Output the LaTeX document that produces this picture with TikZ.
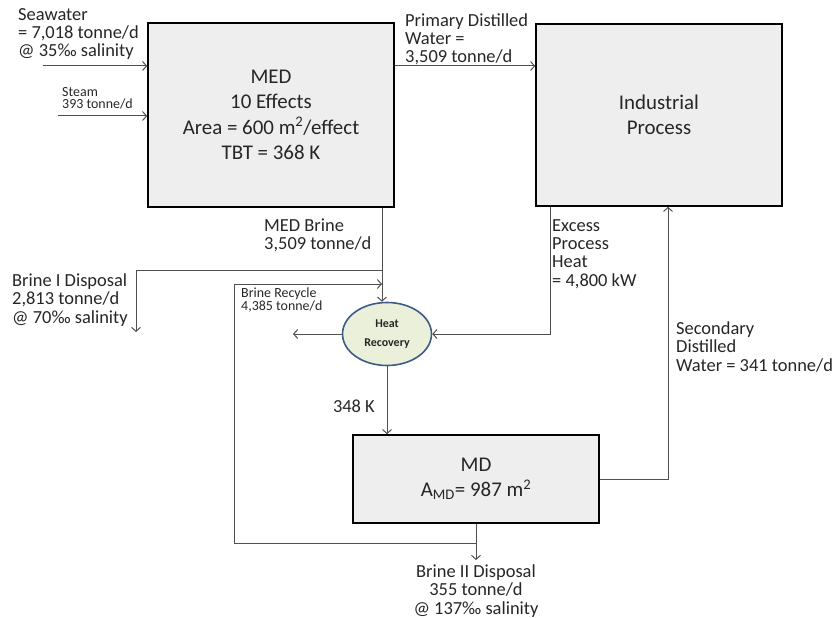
\documentclass[tikz,border=0pt]{standalone}
\usepackage{fontspec}
\setmainfont{Carlito}
\usepackage{xcolor}
\usepackage{tikz}
\usetikzlibrary{arrows.meta, positioning, calc, shapes.geometric}

\definecolor{boxgray}{HTML}{EEEEEE}
\definecolor{linegray}{HTML}{505050}
\definecolor{hrfill}{HTML}{EBF0DA}
\definecolor{hrline}{HTML}{3E5A87}
\definecolor{txt}{HTML}{262626}

\begin{document}
\begin{tikzpicture}[x=1bp, y=-1bp,
    unit/.style={rectangle, draw=black, fill=boxgray, line width=1.6bp, align=center, font=\fontsize{21}{25.5}\selectfont, text=txt},
    hx/.style={ellipse, draw=hrline, fill=hrfill, line width=1.6bp, minimum width=89bp, minimum height=63bp, inner sep=0pt, align=center, font=\fontsize{12}{19}\selectfont\bfseries, text=txt},
    flow/.style={draw=linegray, line width=1bp},
    arrow/.style={flow, -{Straight Barb[length=4bp, width=9bp]}},
    lbl/.style={inner sep=0pt, align=left, anchor=base west, font=\fontsize{18.5}{18.2}\selectfont, text=txt},
    small/.style={lbl, font=\fontsize{14}{12.5}\selectfont}
]

\useasboundingbox (0,0) rectangle (837,618);

% Units
\node[unit, minimum width=246bp, minimum height=184bp] (med) at (271,115) {MED\\10 Effects\\Area = 600 m\textsuperscript{2}/effect\\TBT = 368 K};
\node[unit, minimum width=246bp, minimum height=182bp] (ind) at (659,115) {Industrial\\Process};
\node[unit, minimum width=246bp, minimum height=88bp] (md) at (476,479) {MD\\A\textsubscript{MD}= 987 m\textsuperscript{2}};
\node[hx] (hr) at (387,334) {Heat\\Recovery};

% Bends and free ends
\coordinate (sw) at (43,66);
\coordinate (st) at (58,116);
\coordinate (brA) at (382,270);
\coordinate (bIend) at (136,332);
\coordinate (rcA) at (234,284);
\coordinate (rcB) at (476,543);
\coordinate (hrout) at (293,334);
\coordinate (exA) at (550,334);
\coordinate (sdA) at (668,479);
\coordinate (bIIend) at (476,560);

% Feeds
\draw[arrow] (sw) -- (sw -| med.west);
\draw[arrow] (st) -- (st -| med.west);
\draw[arrow] (sw -| med.east) -- (sw -| ind.west);

% Brine lines
\draw[arrow] (brA |- med.south) -- (brA |- hr.north);
\draw[arrow] (brA) -| (bIend);
\draw[arrow] (rcB) -| (rcA) -- (rcA -| brA);
\draw[arrow] (md.south) -- (bIIend);

% Heat
\draw[arrow] (hr.west) -- (hrout);
\draw[arrow] (exA |- ind.south) -- (exA) -- (hr.east);
\draw[arrow] (hr.south) -- (hr.south |- md.north);

% Secondary distilled water
\draw[arrow] (md.east |- sdA) -- (sdA) -- (sdA |- ind.south);

% Labels (placed at the baseline of the last line)
\node[lbl] (lsw) at (18,57) {Seawater\\= 7,018 tonne/d\\@ 35‰ salinity};
\node[small] (lst) at (62,109) {Steam\\393 tonne/d};
\node[lbl] (lpw) at (405,63) {Primary Distilled\\Water =\\3,509 tonne/d};
\node[lbl] (lmb) at (264,250) {MED Brine\\3,509 tonne/d};
\node[lbl] (lbI) at (12,323) {Brine I Disposal\\2,813 tonne/d\\@ 70‰ salinity};
\node[small] (lrc) at (241,310) {Brine Recycle\\4,385 tonne/d};
\node[lbl] (lex) at (552,286) {Excess\\Process\\Heat\\= 4,800 kW};
\node[lbl, anchor=base east] (l348) at (375,412) {348 K};
\node[lbl] (lsd) at (676,371) {Secondary\\Distilled\\Water = 341 tonne/d};
\node[lbl, align=center, anchor=base] (lbII) at (476,614) {Brine II Disposal\\355 tonne/d\\@ 137‰ salinity};

\end{tikzpicture}
\end{document}
